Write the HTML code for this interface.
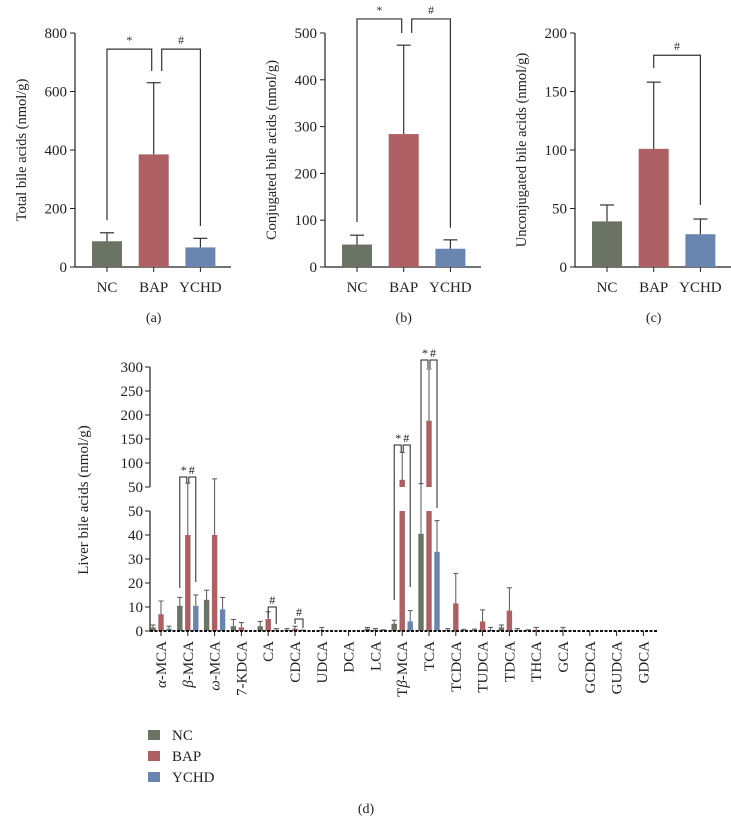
<!DOCTYPE html>
<html><head><meta charset="utf-8"><style>
body{margin:0;background:#fff;}
svg{display:block;font-family:"Liberation Serif",serif;}
</style></head><body>
<svg id="fig" width="731" height="817" xmlns="http://www.w3.org/2000/svg"></svg>
<script>
const groups = ['NC','BAP','YCHD'];
const colors = ['#6b7364','#ad5f63','#6a84b0'];
// panels a-c
const totalMeans = [88, 385, 67];
const totalErr = [117, 630, 98];
const conjMeans = [48, 284, 39];
const conjErr = [68, 474, 58];
const unconjMeans = [39, 101, 28];
const unconjErr = [53, 158, 41];
const totalTicks = [0,200,400,600,800];
const conjTicks = [0,100,200,300,400,500];
const unconjTicks = [0,50,100,150,200];
// panel d
const categories = ['α-MCA','β-MCA','ω-MCA','7-KDCA','CA','CDCA','UDCA','DCA','LCA','Tβ-MCA','TCA','TCDCA','TUDCA','TDCA','THCA','GCA','GCDCA','GUDCA','GDCA'];
const ncMeans =   [1.5,10.5,13,2,2,0.5,0,0,1,3,40.5,0.5,0.5,1.5,0.3,0,0,0,0];
const ncErr =     [2.5,14,17,4.8,4,1,0,0,1.5,4.5,57,1,0.8,2.5,0.5,0,0,0,0];
const bapMeans =  [7,40,40,1.5,5,1,0.5,0,0.5,65,188,11.5,4,8.5,0.5,0.5,0,0,0];
const bapErr =    [12.5,58,67,3.5,8,2,1.5,0,1,122,296,24,8.8,18,1.5,1.5,0,0,0];
const ychdMeans = [1,10.5,9,0,0.5,0.2,0,0,0.3,4,33,0.2,0.5,0.5,0,0,0,0,0];
const ychdErr =   [2,15,14,0,1,0.4,0,0,0.5,8.5,46,0.7,1.5,1,0,0,0,0,0];
const lowTicks = [0,10,20,30,40,50];
const highTicks = [50,100,150,200,250,300];

const svg = document.getElementById('fig');
const NS = 'http://www.w3.org/2000/svg';
function el(tag, attrs, parent){ const e=document.createElementNS(NS,tag); for(const k in attrs) e.setAttribute(k,attrs[k]); (parent||svg).appendChild(e); return e; }
function txt(s, attrs, parent){ const e=el('text',attrs,parent); e.textContent=s; return e; }

function smallPanel(name, axX, axEnd, yMax, ticks, means, errs, ytitle, letter, brackets){
  const g = el('g',{});
  
  
  const y0=267, yTop=33;
  const sy = v => y0 - v/yMax*(y0-yTop);
  el('line',{x1:axX,y1:yTop,x2:axX,y2:y0,stroke:'#222','stroke-width':1.2},g);
  el('line',{x1:axX,y1:y0,x2:axEnd,y2:y0,stroke:'#222','stroke-width':1.2},g);
  ticks.forEach(t=>{
    el('line',{x1:axX-5,y1:sy(t),x2:axX,y2:sy(t),stroke:'#222'},g);
    const tl = txt(String(t),{x:axX-8,y:sy(t)+5,'text-anchor':'end','font-size':15,fill:'#222'},g);
    
    
  });
  const step = 46.7, cx0 = axX+32;
  means.forEach((m,i)=>{
    const cx = cx0+i*step;
    const b = el('rect',{x:cx-15,y:sy(m),width:30,height:y0-sy(m),fill:colors[i]},g);
    
    
    el('line',{x1:cx,y1:sy(m),x2:cx,y2:sy(errs[i]),stroke:'#333','stroke-width':1.2},g);
    el('line',{x1:cx-7,y1:sy(errs[i]),x2:cx+7,y2:sy(errs[i]),stroke:'#333','stroke-width':1.2},g);
    el('line',{x1:cx,y1:y0,x2:cx,y2:y0+5,stroke:'#222'},g);
    const xl = txt(groups[i],{x:cx,y:292,'text-anchor':'middle','font-size':15,fill:'#222'},g);
    
    
  });
  const yt = txt(ytitle,{x:0,y:0,'text-anchor':'middle','font-size':14.5,fill:'#222',transform:`translate(${axX-49},150) rotate(-90)`},g);
  
  
  const lt = txt(letter,{x:cx0+step,y:322,'text-anchor':'middle','font-size':14,fill:'#222'},g);
  
  
  brackets.forEach(b=>{
    const xa=cx0+b.i*step+b.da, xb=cx0+b.j*step+b.db;
    const p = el('path',{d:`M${xa},${sy(b.la)} L${xa},${sy(b.top)} L${xb},${sy(b.top)} L${xb},${sy(b.lb)}`,fill:'none',stroke:'#333','stroke-width':1.2},g);
    
    
    const s = txt(b.s,{x:(xa+xb)/2,y:sy(b.top)-5,'text-anchor':'middle','font-size':12,fill:'#333'},g);
    
    
  });
}
smallPanel('panel-a-total',75,231,800,totalTicks,totalMeans,totalErr,'Total bile acids (nmol/g)','(a)',
  [{i:0,j:1,da:0,db:-2,la:160,lb:670,top:745,s:'*'},{i:1,j:2,da:8,db:0,la:670,lb:140,top:745,s:'#'}]);
smallPanel('panel-b-conjugated',325,481,500,conjTicks,conjMeans,conjErr,'Conjugated bile acids (nmol/g)','(b)',
  [{i:0,j:1,da:0,db:-2,la:96,lb:500,top:530,s:'*'},{i:1,j:2,da:8,db:0,la:500,lb:84,top:530,s:'#'}]);
smallPanel('panel-c-unconjugated',575,731,200,unconjTicks,unconjMeans,unconjErr,'Unconjugated bile acids (nmol/g)','(c)',
  [{i:1,j:2,da:0,db:0,la:170,lb:53,top:181,s:'#'}]);

// Panel d
const gd = el('g',{});


const AX=150, Y0=631, LOWTOP=511, HIGHBASE=487, HIGHTOP=367;
function yd(v){ return v<=50 ? Y0 - v*(Y0-LOWTOP)/50 : HIGHBASE - (v-50)*(HIGHBASE-HIGHTOP)/250; }
const cxd = i => 161 + i*26.8;
el('line',{x1:AX,y1:Y0,x2:AX,y2:LOWTOP,stroke:'#222','stroke-width':1.2},gd);
el('line',{x1:AX,y1:HIGHBASE,x2:AX,y2:HIGHTOP,stroke:'#222','stroke-width':1.2},gd);
lowTicks.forEach(t=>{ el('line',{x1:AX-5,y1:yd(t),x2:AX,y2:yd(t),stroke:'#222'},gd);
  const l=txt(String(t),{x:AX-7,y:yd(t)+5,'text-anchor':'end','font-size':15,fill:'#222'},gd);
  
   });
highTicks.forEach(t=>{ const y = t===50?HIGHBASE:yd(t); el('line',{x1:AX-5,y1:y,x2:AX,y2:y,stroke:'#222'},gd);
  const l=txt(String(t),{x:AX-7,y:y+5,'text-anchor':'end','font-size':15,fill:'#222'},gd);
  
   });
const ydt = txt('Liver bile acids (nmol/g)',{x:0,y:0,'text-anchor':'middle','font-size':15,fill:'#222',transform:'translate(88,500) rotate(-90)'},gd);


const series=[[ncMeans,ncErr],[bapMeans,bapErr],[ychdMeans,ychdErr]];
categories.forEach((c,i)=>{
  series.forEach((s,k)=>{
    const cx=cxd(i)+(k-1)*8, m=s[0][i], e=s[1][i];
    if(m>0){
      if(m<=50){
        const r=el('rect',{x:cx-2.7,y:yd(m),width:5.4,height:Y0-yd(m),fill:colors[k]},gd);
        
        
      } else {
        const r=el('rect',{x:cx-2.7,y:LOWTOP,width:5.4,height:Y0-LOWTOP,fill:colors[k]},gd);
        
        
        const r2=el('rect',{x:cx-2.7,y:yd(m),width:5.4,height:HIGHBASE-yd(m),fill:colors[k]},gd);
        
        
      }
    }
    if(e>m){
      el('line',{x1:cx,y1:yd(m),x2:cx,y2:yd(e),stroke:'#555','stroke-width':1},gd);
      el('line',{x1:cx-2.5,y1:yd(e),x2:cx+2.5,y2:yd(e),stroke:'#555','stroke-width':1},gd);
    }
  });
  el('line',{x1:cxd(i),y1:Y0,x2:cxd(i),y2:Y0+5,stroke:'#222'},gd);
  const parts = c.match(/^(T?)([αβω]?)(.*)$/);
  const t=txt('',{x:0,y:0,'text-anchor':'end','font-size':15,fill:'#222',transform:`translate(${cxd(i)+5},641) rotate(-90)`},gd);
  
  
  if(parts[1]){ const a=el('tspan',{},t); a.textContent=parts[1]; }
  if(parts[2]){ const a=el('tspan',{'font-style':'italic'},t); a.textContent=parts[2]; }
  const a=el('tspan',{},t); a.textContent=parts[3];
});
el('line',{x1:AX,y1:Y0,x2:657,y2:Y0,stroke:'#111','stroke-width':2,'stroke-dasharray':'3,1.5'},gd);
// brackets
function brk(xa,ya,xb,yb,top,s,sx){
  const p=el('path',{d:`M${xa},${ya} L${xa},${top} L${xb},${top} L${xb},${yb}`,fill:'none',stroke:'#222','stroke-width':1},gd);
  
  
  const t=txt(s,{x:sx,y:top-3,'text-anchor':'middle','font-size':12,fill:'#222'},gd);
  
  
}
function pair(i, topY, lA, lB, lC){
  const a=cxd(i)-8,b=cxd(i),c=cxd(i)+8;
  brk(a,lA,b-1,lB,topY,'*',(a+b)/2);
  brk(b+1,lB,c,lC,topY,'#',(b+c)/2);
}
pair(1,477,588,483,582);
pair(9,445,600,452,587);
pair(10,360,484,368,508);
brk(cxd(4),618,cxd(4)+8,624,607,'#',cxd(4)+4);
brk(cxd(5),624,cxd(5)+8,628,619,'#',cxd(5)+4);
// legend
groups.forEach((g,i)=>{
  const y=730+i*21;
  const r=el('rect',{x:148,y:y,width:12,height:10,fill:colors[i]});
  
  
  const t=txt(g,{x:172,y:y+10,'font-size':15,fill:'#222'});
  
  
});
const dl=txt('(d)',{x:366,y:813,'text-anchor':'middle','font-size':14,fill:'#222'});


</script>
</body></html>
